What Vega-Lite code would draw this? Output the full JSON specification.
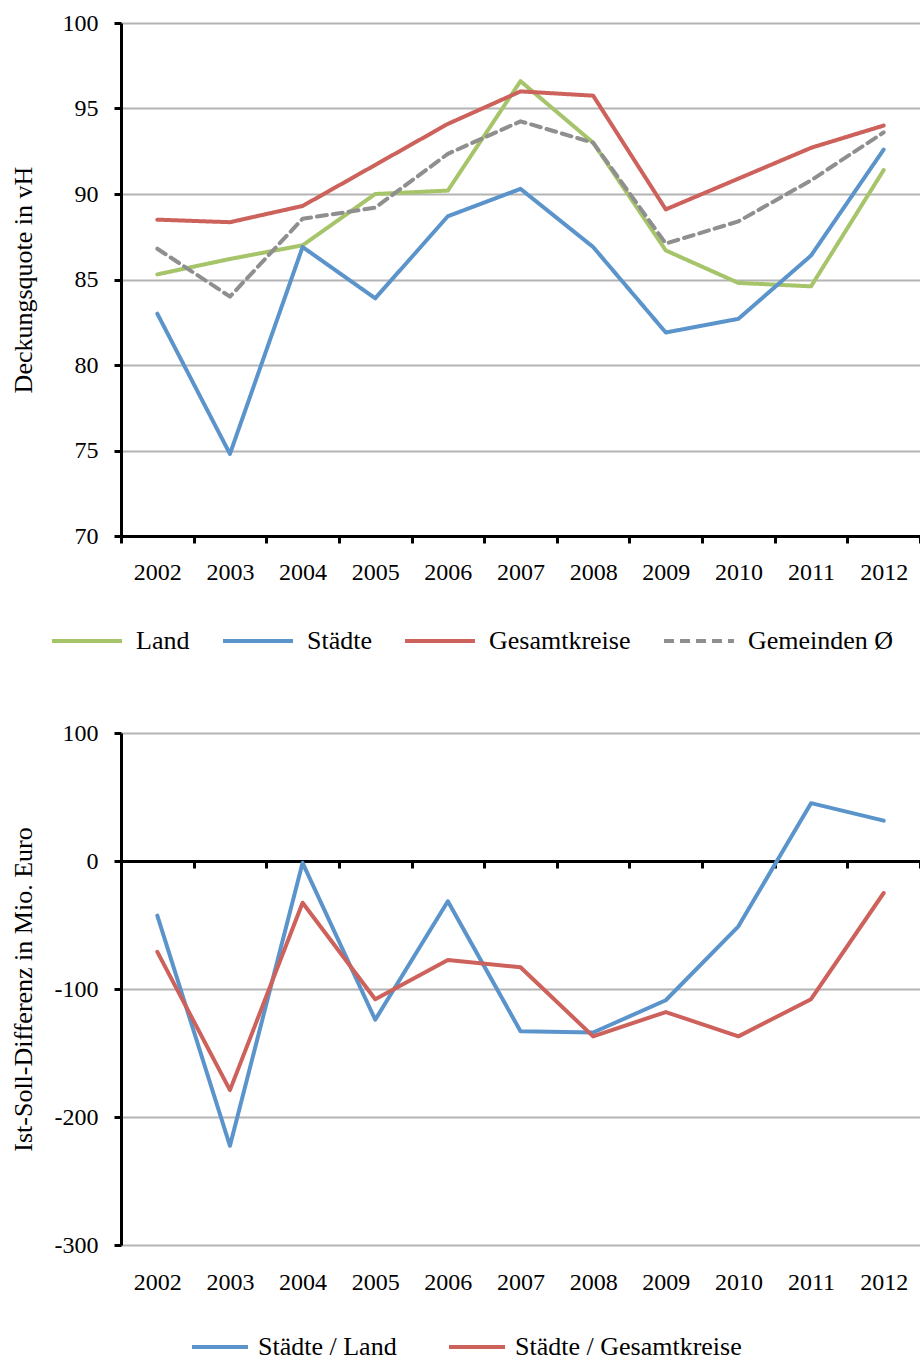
{
  "$schema": "https://vega.github.io/schema/vega-lite/v6.json",
  "background": "white",
  "padding": {"left": 10, "top": 11, "right": 0, "bottom": 0},
  "spacing": 67,
  "config": {
    "font": "Liberation Serif",
    "view": {"stroke": null},
    "axis": {
      "labelFont": "Liberation Serif", "labelFontSize": 24, "labelColor": "black",
      "titleFont": "Liberation Serif", "titleFontSize": 26, "titleFontWeight": "normal", "titleColor": "black",
      "domainColor": "black", "domainWidth": 3, "tickColor": "black", "tickWidth": 3, "tickSize": 7,
      "gridColor": "#b4b4b4", "gridWidth": 2, "gridOpacity": 1
    },
    "line": {"strokeWidth": 4, "strokeCap": "round", "strokeJoin": "round"}
  },
  "resolve": {
    "scale": {"x": "independent", "y": "independent", "color": "independent", "strokeDash": "independent"},
    "legend": {"color": "independent", "strokeDash": "independent"}
  },
  "vconcat": [
    {
      "width": 799,
      "height": 513,
      "data": {"values": [
        {"year": "2002", "series": "Land", "value": 85.3},
        {"year": "2003", "series": "Land", "value": 86.2},
        {"year": "2004", "series": "Land", "value": 87.0},
        {"year": "2005", "series": "Land", "value": 90.0},
        {"year": "2006", "series": "Land", "value": 90.2},
        {"year": "2007", "series": "Land", "value": 96.6},
        {"year": "2008", "series": "Land", "value": 93.0},
        {"year": "2009", "series": "Land", "value": 86.7},
        {"year": "2010", "series": "Land", "value": 84.8},
        {"year": "2011", "series": "Land", "value": 84.6},
        {"year": "2012", "series": "Land", "value": 91.4},
        {"year": "2002", "series": "Städte", "value": 83.0},
        {"year": "2003", "series": "Städte", "value": 74.8},
        {"year": "2004", "series": "Städte", "value": 86.9},
        {"year": "2005", "series": "Städte", "value": 83.9},
        {"year": "2006", "series": "Städte", "value": 88.7},
        {"year": "2007", "series": "Städte", "value": 90.3},
        {"year": "2008", "series": "Städte", "value": 86.9},
        {"year": "2009", "series": "Städte", "value": 81.9},
        {"year": "2010", "series": "Städte", "value": 82.7},
        {"year": "2011", "series": "Städte", "value": 86.4},
        {"year": "2012", "series": "Städte", "value": 92.6},
        {"year": "2002", "series": "Gesamtkreise", "value": 88.5},
        {"year": "2003", "series": "Gesamtkreise", "value": 88.35},
        {"year": "2004", "series": "Gesamtkreise", "value": 89.3},
        {"year": "2005", "series": "Gesamtkreise", "value": 91.7},
        {"year": "2006", "series": "Gesamtkreise", "value": 94.1},
        {"year": "2007", "series": "Gesamtkreise", "value": 96.0},
        {"year": "2008", "series": "Gesamtkreise", "value": 95.75},
        {"year": "2009", "series": "Gesamtkreise", "value": 89.1},
        {"year": "2010", "series": "Gesamtkreise", "value": 90.9},
        {"year": "2011", "series": "Gesamtkreise", "value": 92.7},
        {"year": "2012", "series": "Gesamtkreise", "value": 94.0},
        {"year": "2002", "series": "Gemeinden Ø", "value": 86.8},
        {"year": "2003", "series": "Gemeinden Ø", "value": 84.0},
        {"year": "2004", "series": "Gemeinden Ø", "value": 88.55},
        {"year": "2005", "series": "Gemeinden Ø", "value": 89.2},
        {"year": "2006", "series": "Gemeinden Ø", "value": 92.35},
        {"year": "2007", "series": "Gemeinden Ø", "value": 94.25},
        {"year": "2008", "series": "Gemeinden Ø", "value": 93.0},
        {"year": "2009", "series": "Gemeinden Ø", "value": 87.1},
        {"year": "2010", "series": "Gemeinden Ø", "value": 88.4},
        {"year": "2011", "series": "Gemeinden Ø", "value": 90.8},
        {"year": "2012", "series": "Gemeinden Ø", "value": 93.6}
      ]},
      "mark": {"type": "line"},
      "encoding": {
        "x": {
          "field": "year", "type": "ordinal", "bandPosition": 0.5,
          "scale": {"type": "band", "paddingInner": 0, "paddingOuter": 0},
          "axis": {"title": null, "labelAngle": 0, "tickBand": "extent", "labelPadding": 17, "grid": false}
        },
        "y": {
          "field": "value", "type": "quantitative",
          "scale": {"domain": [70, 100], "nice": false, "zero": false},
          "axis": {"title": "Deckungsquote in vH", "values": [70, 75, 80, 85, 90, 95, 100], "labelPadding": 16, "titlePadding": 26, "grid": true}
        },
        "color": {
          "field": "series", "type": "nominal",
          "scale": {"domain": ["Land", "Städte", "Gesamtkreise", "Gemeinden Ø"], "range": ["#a6c46a", "#5b94cb", "#cd615b", "#8f8f8f"]},
          "legend": {"title": null, "orient": "none", "direction": "horizontal", "legendX": -71, "legendY": 581, "symbolType": "stroke", "symbolSize": 4900, "symbolStrokeWidth": 4, "labelFont": "Liberation Serif", "labelFontSize": 26, "labelColor": "black", "labelLimit": 400, "columnPadding": 31, "labelOffset": 12}
        },
        "strokeDash": {
          "field": "series", "type": "nominal",
          "scale": {"domain": ["Land", "Städte", "Gesamtkreise", "Gemeinden Ø"], "range": [[1, 0], [1, 0], [1, 0], [10, 6]]},
          "legend": {"title": null, "orient": "none", "direction": "horizontal", "legendX": -71, "legendY": 581, "symbolType": "stroke", "symbolSize": 4900, "symbolStrokeWidth": 4, "labelFont": "Liberation Serif", "labelFontSize": 26, "labelColor": "black", "labelLimit": 400, "columnPadding": 31, "labelOffset": 12}
        }
      }
    },
    {
      "width": 799,
      "height": 512,
      "data": {"values": [
        {"year": "2002", "series": "Städte / Land", "value": -42.7},
        {"year": "2003", "series": "Städte / Land", "value": -222.5},
        {"year": "2004", "series": "Städte / Land", "value": -1.4},
        {"year": "2005", "series": "Städte / Land", "value": -124},
        {"year": "2006", "series": "Städte / Land", "value": -31.5},
        {"year": "2007", "series": "Städte / Land", "value": -133},
        {"year": "2008", "series": "Städte / Land", "value": -134},
        {"year": "2009", "series": "Städte / Land", "value": -108.8},
        {"year": "2010", "series": "Städte / Land", "value": -51},
        {"year": "2011", "series": "Städte / Land", "value": 45.2},
        {"year": "2012", "series": "Städte / Land", "value": 31.5},
        {"year": "2002", "series": "Städte / Gesamtkreise", "value": -71},
        {"year": "2003", "series": "Städte / Gesamtkreise", "value": -179},
        {"year": "2004", "series": "Städte / Gesamtkreise", "value": -32.6},
        {"year": "2005", "series": "Städte / Gesamtkreise", "value": -108},
        {"year": "2006", "series": "Städte / Gesamtkreise", "value": -77.3},
        {"year": "2007", "series": "Städte / Gesamtkreise", "value": -83},
        {"year": "2008", "series": "Städte / Gesamtkreise", "value": -137},
        {"year": "2009", "series": "Städte / Gesamtkreise", "value": -118},
        {"year": "2010", "series": "Städte / Gesamtkreise", "value": -137},
        {"year": "2011", "series": "Städte / Gesamtkreise", "value": -108},
        {"year": "2012", "series": "Städte / Gesamtkreise", "value": -25}
      ]},
      "mark": {"type": "line"},
      "encoding": {
        "x": {
          "field": "year", "type": "ordinal", "bandPosition": 0.5,
          "scale": {"type": "band", "paddingInner": 0, "paddingOuter": 0},
          "axis": {"title": null, "labelAngle": 0, "tickBand": "extent", "offset": -384, "labelPadding": 402, "grid": false}
        },
        "y": {
          "field": "value", "type": "quantitative",
          "scale": {"domain": [-300, 100], "nice": false, "zero": false},
          "axis": {"title": "Ist-Soll-Differenz in Mio. Euro", "values": [-300, -200, -100, 0, 100], "labelExpr": "'' + datum.value", "labelPadding": 16, "titlePadding": 18, "grid": true}
        },
        "color": {
          "field": "series", "type": "nominal",
          "scale": {"domain": ["Städte / Land", "Städte / Gesamtkreise"], "range": ["#5b94cb", "#cd615b"]},
          "legend": {"title": null, "orient": "none", "direction": "horizontal", "legendX": 69, "legendY": 584, "symbolType": "stroke", "symbolSize": 3136, "symbolStrokeWidth": 4, "labelFont": "Liberation Serif", "labelFontSize": 26, "labelColor": "black", "labelLimit": 400, "columnPadding": 50, "labelOffset": 8}
        }
      }
    }
  ]
}
